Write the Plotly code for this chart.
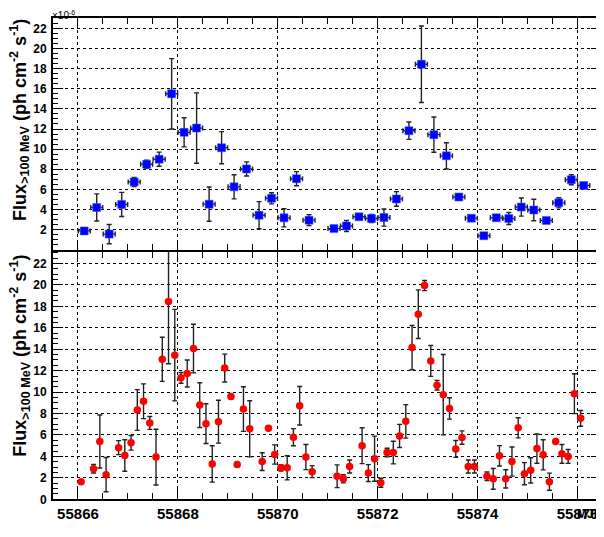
import plotly.graph_objects as go
from plotly.subplots import make_subplots

# ---- data (Flux in units of 1e-6 ph cm^-2 s^-1) ----
top_mjd = [55866.125, 55866.375, 55866.625, 55866.875, 55867.125, 55867.375, 55867.625, 55867.875,
           55868.125, 55868.375, 55868.625, 55868.875, 55869.125, 55869.375, 55869.625, 55869.875,
           55870.125, 55870.375, 55870.625, 55871.125, 55871.375, 55871.625, 55871.875, 55872.125,
           55872.375, 55872.625, 55872.875, 55873.125, 55873.375, 55873.625, 55873.875, 55874.125,
           55874.375, 55874.625, 55874.875, 55875.125, 55875.375, 55875.625, 55875.875, 55876.125]
top_flux = [1.87, 4.2, 1.55, 4.5, 6.74, 8.49, 9.0, 15.5, 11.67, 12.09, 4.53, 10.14, 6.25, 8.03, 3.43, 5.11,
            3.17, 7.06, 2.94, 2.1, 2.36, 3.27, 3.1, 3.2, 5.05, 11.83, 18.44, 11.44, 9.33, 5.24, 3.14, 1.39,
            3.17, 3.1, 4.24, 3.95, 2.91, 4.66, 6.96, 6.38]
top_err = [0.25, 1.35, 0.95, 1.2, 0.45, 0.4, 0.7, 3.5, 1.45, 3.5, 1.7, 1.6, 1.2, 0.7, 1.35, 0.55,
           0.9, 0.7, 0.55, 0.2, 0.55, 0.25, 0.4, 0.85, 0.73, 0.86, 3.8, 1.75, 1.3, 0.25, 0.25, 0.25,
           0.25, 0.6, 0.9, 1.07, 0.25, 0.5, 0.5, 0.25]
top_xerr = 0.12

bot_mjd = [55866.0625, 55866.3125, 55866.4375, 55866.5625, 55866.8125, 55866.9375, 55867.0625, 55867.1875,
           55867.3125, 55867.4375, 55867.5625, 55867.6875, 55867.8125, 55867.9375, 55868.0625, 55868.1875,
           55868.3125, 55868.4375, 55868.5625, 55868.6875, 55868.8125, 55868.9375, 55869.0625, 55869.1875,
           55869.3125, 55869.4375, 55869.6875, 55869.8125, 55869.9375, 55870.0625, 55870.1875, 55870.3125,
           55870.4375, 55870.5625, 55870.6875, 55871.1875, 55871.3125, 55871.4375, 55871.6875, 55871.8125,
           55871.9375, 55872.0625, 55872.1875, 55872.3125, 55872.4375, 55872.5625, 55872.6875, 55872.8125,
           55872.9375, 55873.0625, 55873.1875, 55873.3125, 55873.4375, 55873.5625, 55873.6875, 55873.8125,
           55873.9375, 55874.1875, 55874.3125, 55874.4375, 55874.5625, 55874.6875, 55874.8125, 55874.9375,
           55875.0625, 55875.1875, 55875.3125, 55875.4375, 55875.5625, 55875.6875, 55875.8125, 55875.9375,
           55876.0625]
bot_flux = [1.64, 2.85, 5.39, 2.3, 4.82, 4.09, 5.27, 8.33, 9.15, 7.12, 3.94, 13.06, 18.45, 13.45, 11.33, 11.73,
            14.06, 8.79, 7.06, 3.3, 7.24, 12.24, 9.58, 3.24, 8.42, 6.58, 3.52, 6.64, 4.18, 2.94, 2.94, 5.79,
            8.73, 3.94, 2.58, 2.15, 1.91, 3.06, 5.0, 2.45, 3.79, 1.55, 4.36, 4.36, 5.91, 7.27, 14.15, 17.27,
            19.94, 12.91, 10.64, 9.76, 8.48, 4.7, 5.76, 3.06, 3.06, 2.15, 1.91, 4.06, 1.91, 3.52, 6.67, 2.39,
            2.7, 4.73, 4.15, 1.64, 5.39, 4.24, 4.0, 9.85, 7.55]
bot_err = [0.2, 0.4, 2.47, 1.6, 0.65, 1.47, 0.68, 1.9, 1.62, 0.6, 2.6, 2.06, 5.8, 4.27, 0.5, 1.26,
           2.27, 2.09, 1.85, 1.7, 2.0, 1.3, 0.2, 0.2, 2.08, 2.62, 0.83, 0.2, 0.9, 0.3, 1.13, 0.8,
           1.8, 1.17, 0.56, 1.06, 0.38, 0.6, 1.67, 0.79, 2.1, 0.42, 0.4, 1.05, 1.08, 1.56, 2.06, 2.27,
           0.47, 1.44, 0.45, 3.75, 1.0, 0.79, 0.62, 0.6, 0.6, 0.4, 0.97, 0.95, 0.85, 1.36, 0.94, 1.03,
           1.18, 1.36, 1.4, 0.8, 0.2, 0.87, 0.65, 1.86, 0.73]

x_ticks = [55866, 55868, 55870, 55872, 55874, 55876]
y_ticks = [0, 2, 4, 6, 8, 10, 12, 14, 16, 18, 20, 22]

# the page body has an 8px margin on every side; size the figure so the page is exactly the window
OFF = 8
W, H = 604 - OFF, 537 - 2 * OFF
FONT = "Liberation Sans, Arial, Helvetica, sans-serif"
LW = 2


def fx(px):
    return (px - OFF) / W


def fy(py):
    return 1 - (py - OFF) / H


fig = make_subplots(rows=2, cols=1, shared_xaxes=False, vertical_spacing=0)

ebar = dict(type="data", color="#222222", thickness=1.4, width=2.5)

fig.add_trace(go.Scatter(
    x=top_mjd, y=top_flux, mode="markers",
    marker=dict(symbol="square", size=8, color="#0000ff", line=dict(color="#3355ff", width=0.5)),
    error_y=dict(array=top_err, **ebar),
    error_x=dict(type="constant", value=top_xerr, color="#222222", thickness=1.4, width=2.5),
    showlegend=False), row=1, col=1)

fig.add_trace(go.Scatter(
    x=bot_mjd, y=bot_flux, mode="markers",
    marker=dict(symbol="circle", size=7.5, color="#ff0000", line=dict(width=0)),
    error_y=dict(array=bot_err, **ebar),
    showlegend=False), row=2, col=1)

x_dom = [fx(53), fx(600.5)]
top_dom = [fy(253), fy(18)]
bot_dom = [fy(506), fy(255)]

common_x = dict(
    range=[55865.5, 55876.46], domain=x_dom, tickvals=x_ticks, tickformat="d",
    ticks="inside", ticklen=10, tickwidth=1.2, tickcolor="black",
    minor=dict(dtick=0.5, tick0=55866, ticks="inside", ticklen=6, tickcolor="black", tickwidth=1, showgrid=False),
    showline=True, linecolor="black", linewidth=LW, mirror="ticks",
    showgrid=True, gridcolor="black", griddash="dot", gridwidth=1,
    zeroline=False,
)
common_y = dict(
    ticks="inside", ticklen=10, tickwidth=1.2, tickcolor="black",
    minor=dict(dtick=0.5, tick0=0, ticks="inside", ticklen=5, tickcolor="black", tickwidth=1, showgrid=False),
    showline=True, linecolor="black", linewidth=LW, mirror="ticks",
    showgrid=True, gridcolor="black", griddash="dot", gridwidth=1,
    zeroline=False,
    tickfont=dict(family=FONT, size=12, color="black", weight="bold"),
    ticklabelstandoff=2,
)

fig.update_xaxes(**common_x, showticklabels=False, row=1, col=1)
fig.update_xaxes(**common_x, showticklabels=True,
                 tickfont=dict(family=FONT, size=15, color="black", weight="bold"),
                 ticklabelstandoff=0, row=2, col=1)
fig.update_yaxes(**common_y, range=[0, 23.05], domain=top_dom, tickvals=y_ticks[1:], row=1, col=1)
fig.update_yaxes(**common_y, range=[0, 23.1], domain=bot_dom, tickvals=y_ticks, row=2, col=1)

ytitle = "<b>Flux<sub>>100 MeV</sub> (ph cm<sup>-2</sup> s<sup>-1</sup>)</b>"
annots = [
    dict(text=ytitle, x=fx(20), y=fy(17), xref="paper", yref="paper", textangle=-90,
         xanchor="center", yanchor="top", showarrow=False,
         font=dict(family=FONT, size=18, color="black")),
    dict(text=ytitle, x=fx(20), y=fy(256), xref="paper", yref="paper", textangle=-90,
         xanchor="center", yanchor="top", showarrow=False,
         font=dict(family=FONT, size=18, color="black")),
    dict(text="<b>MJD</b>", x=fx(603.5), y=0, xref="paper", yref="paper",
         xanchor="right", yanchor="bottom", showarrow=False, borderpad=0,
         font=dict(family=FONT, size=12, color="black")),
    dict(text="×10<sup>-6</sup>", x=fx(51), y=1, xref="paper", yref="paper",
         xanchor="left", yanchor="top", showarrow=False, borderpad=0,
         font=dict(family=FONT, size=10, color="black")),
]

fig.update_layout(
    width=W, height=H, margin=dict(l=0, r=0, t=0, b=0),
    paper_bgcolor="white", plot_bgcolor="white",
    annotations=annots,
)

fig.write_html("out.html")
